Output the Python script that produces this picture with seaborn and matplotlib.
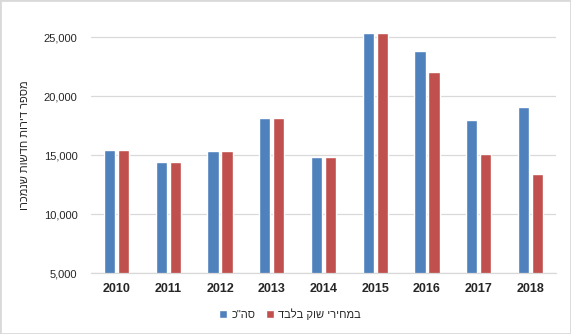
import matplotlib
matplotlib.use("Agg")
import matplotlib.pyplot as plt
import seaborn as sns
import pandas as pd
from matplotlib.patches import Rectangle

# ---- data ----
years = ["2010", "2011", "2012", "2013", "2014", "2015", "2016", "2017", "2018"]
total = [15420, 14410, 15340, 18140, 14830, 25300, 23830, 17970, 19070]
market = [15420, 14410, 15340, 18140, 14830, 25300, 22040, 15090, 13390]
series_names = ['סה"כ', "במחירי שוק בלבד"]
y_label = "מספר דירות חדשות שנמכרו"
y_ticks = [5000, 10000, 15000, 20000, 25000]
y_tick_labels = ["5,000", "10,000", "15,000", "20,000", "25,000"]
colors = ["#4F81BD", "#C0504D"]


def visual(s):
    # matplotlib has no bidi support: reverse Hebrew for right-to-left display
    return s[::-1]


sns.set_theme(style="white")
plt.rcParams["font.family"] = ["Liberation Sans", "DejaVu Sans"]

df = pd.DataFrame({
    "year": years + years,
    "value": total + market,
    "series": [visual(series_names[0])] * len(years) + [visual(series_names[1])] * len(years),
})

fig = plt.figure(figsize=(5.71, 3.34), dpi=100)
fig.patch.set_facecolor("white")
ax = fig.add_axes([0.1587, 0.1826, 0.8158, 0.7207])

sns.barplot(data=df, x="year", y="value", hue="series", palette=colors,
            width=0.54, gap=0.2, ax=ax, saturation=1, errorbar=None)

ax.set_ylim(5000, 25400)
ax.set_yticks(y_ticks)
ax.set_yticklabels(y_tick_labels)
ax.set_xlabel("")
ax.set_ylabel("")
ax.grid(axis="y", color="#D9D9D9", linewidth=0.9)
ax.set_axisbelow(True)
for s in ["top", "right", "left"]:
    ax.spines[s].set_visible(False)
ax.spines["bottom"].set_color("#D9D9D9")
ax.spines["bottom"].set_linewidth(0.9)
ax.tick_params(axis="y", length=0, pad=9.5, labelsize=8, labelcolor="#262626")
ax.tick_params(axis="x", length=0, pad=7, labelsize=9, labelcolor="#262626")
for lbl in ax.get_xticklabels():
    lbl.set_fontweight("bold")

fig.text(25 / 571, 1 - 145 / 334, visual(y_label), rotation=90,
         ha="center", va="center", fontsize=8, color="#262626")

sns.move_legend(ax, "center", bbox_to_anchor=(0.508, 0.06),
                bbox_transform=fig.transFigure, ncol=2, frameon=False,
                title=None, fontsize=8, handlelength=0.7, handleheight=0.7,
                handletextpad=0.4, columnspacing=1.0)

fig.add_artist(Rectangle((0, 0), 1, 1, transform=fig.transFigure, fill=False,
                         edgecolor="#D9D9D9", linewidth=2))

fig.savefig("out.png", dpi=100)
